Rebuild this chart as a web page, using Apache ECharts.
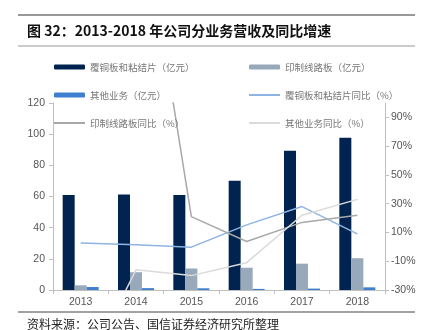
<!DOCTYPE html>
<html><head><meta charset="utf-8">
<script src="https://cdn.jsdelivr.net/npm/echarts@6/dist/echarts.min.js"></script>
<style>html,body{margin:0;padding:0;background:#fff}#c{width:424px;height:330px}</style>
</head><body><div id="c"></div>
<script>
const years = ['2013','2014','2015','2016','2017','2018'];
const cclRev = [60.9, 61.3, 61.0, 70.1, 89.4, 97.7];
const pcbRev = [3.0, 11.4, 13.8, 14.3, 16.9, 20.4];
const otherRev = [1.9, 1.2, 1.1, 0.7, 0.9, 1.7];
const cclYoy = [2.6, 1.4, -0.2, 15.3, 28.0, 9.0];
const pcbYoy = [null, 263, 21, 3.7, 17.0, 22.0];
const otherYoy = [-93, -16, -20, -11, 22, 33];
const leftTicks = {min: 0, max: 120, interval: 20};
const rightTicks = {min: -30, max: 100, interval: 20};

const names = ['覆铜板和粘结片（亿元）','印制线路板（亿元）','其他业务（亿元）','覆铜板和粘结片同比（%）','印制线路板同比（%）','其他业务同比（%）'];
const colors = ['#00244F','#97A9BA','#3F7FD0','#8DB4E3','#A8A8A8','#DADADA'];
const font = 'Noto Sans CJK SC';
const chart = echarts.init(document.getElementById('c'));
const legendCommon = {
  orient: 'vertical', top: 61, itemWidth: 31, itemHeight: 5, itemGap: 16,
  textStyle: {fontSize: 9.5, color: '#777', fontFamily: font, lineHeight: 12, padding: [0,0,0,0]},
  padding: 0
};
const lineItem = n => ({name: n, itemStyle: {opacity: 0}});
chart.setOption({
  animation: false,
  color: colors,
  textStyle: {fontFamily: font},
  title: {
    text: '图 32：2013-2018 年公司分业务营收及同比增速',
    left: 27, top: 24, padding: 0,
    textStyle: {fontSize: 14, fontWeight: 'bold', color: '#111', fontFamily: font}
  },
  graphic: [
    {type: 'line', shape: {x1: 18, y1: 15, x2: 415, y2: 15}, style: {stroke: '#333', lineWidth: 1}},
    {type: 'line', shape: {x1: 18, y1: 46, x2: 415, y2: 46}, style: {stroke: '#999', lineWidth: 1}},
    {type: 'line', shape: {x1: 18, y1: 312, x2: 415, y2: 312}, style: {stroke: '#444', lineWidth: 1}},
    {type: 'text', left: 27, top: 318, style: {text: '资料来源：公司公告、国信证券经济研究所整理', fontSize: 12, fill: '#222', fontFamily: font}}
  ],
  legend: [
    Object.assign({left: 53, data: [names[0], names[2], lineItem(names[4])]}, legendCommon),
    Object.assign({left: 248, data: [names[1], lineItem(names[3]), lineItem(names[5])]}, legendCommon)
  ],
  grid: {left: 53, right: 39, top: 103, bottom: 40},
  xAxis: {
    type: 'category', data: years,
    axisLine: {lineStyle: {color: '#BFBFBF'}},
    axisTick: {show: true, length: 4, lineStyle: {color: '#BFBFBF'}},
    axisLabel: {fontSize: 10.5, color: '#555', margin: 7, fontFamily: 'Liberation Sans'}
  },
  yAxis: [
    Object.assign({type: 'value', position: 'left',
      axisLine: {show: true, lineStyle: {color: '#BFBFBF'}},
      axisTick: {show: true, length: 4, lineStyle: {color: '#BFBFBF'}},
      axisLabel: {fontSize: 10.5, color: '#555', margin: 8, fontFamily: 'Liberation Sans'},
      splitLine: {show: false}}, leftTicks),
    Object.assign({type: 'value', position: 'right',
      axisLine: {show: true, lineStyle: {color: '#BFBFBF'}},
      axisTick: {show: true, length: 4, lineStyle: {color: '#BFBFBF'}},
      axisLabel: {fontSize: 10.5, color: '#555', margin: 6, fontFamily: 'Liberation Sans', formatter: '{value}%', showMaxLabel: false},
      splitLine: {show: false}}, rightTicks)
  ],
  series: [
    {name: names[0], type: 'bar', data: cclRev, barWidth: 12, barGap: '0%'},
    {name: names[1], type: 'bar', data: pcbRev, barWidth: 12, barGap: '0%'},
    {name: names[2], type: 'bar', data: otherRev, barWidth: 12, barGap: '0%'},
    {name: names[3], type: 'line', yAxisIndex: 1, data: cclYoy, symbol: 'none', lineStyle: {width: 1.5}, clip: true},
    {name: names[4], type: 'line', yAxisIndex: 1, data: pcbYoy, symbol: 'none', lineStyle: {width: 1.5}, clip: true},
    {name: names[5], type: 'line', yAxisIndex: 1, data: otherYoy, symbol: 'none', lineStyle: {width: 1.5}, clip: true}
  ]
});
</script></body></html>
